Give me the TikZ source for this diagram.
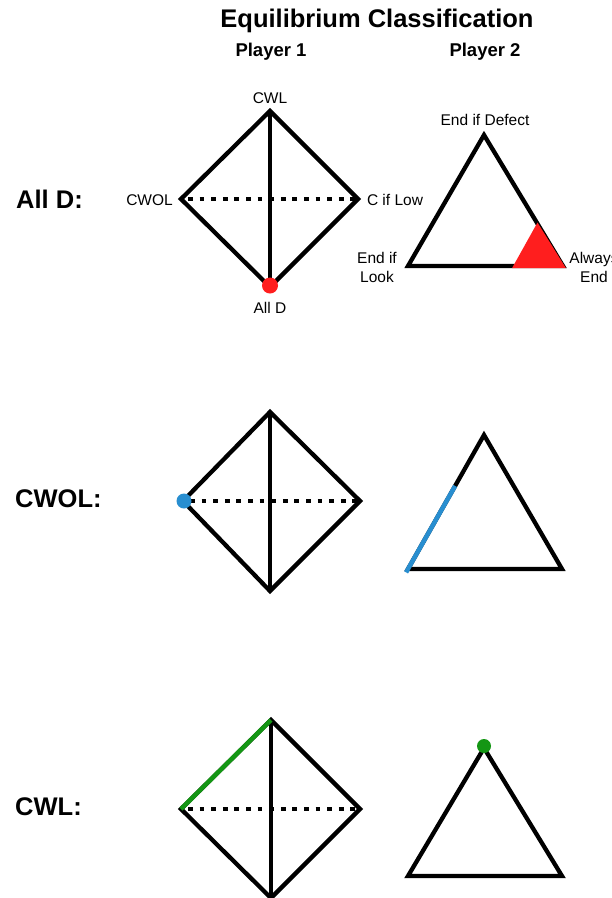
\documentclass[tikz,border=0pt]{standalone}
\usepackage{fontspec}
\setmainfont{Liberation Sans}
\usetikzlibrary{calc}
\definecolor{eqred}{RGB}{255,30,30}
\definecolor{eqblue}{RGB}{40,142,208}
\definecolor{eqgreen}{RGB}{20,150,20}
\begin{document}
\begin{tikzpicture}[x=1pt,y=-1pt,
  edge/.style={line width=4.3pt,black},
  dotline/.style={line width=4.3pt,black,dash pattern=on 4.8pt off 6.8pt,dash phase=-7pt},
  title/.style={font=\fontsize{25.5}{30}\selectfont\bfseries,anchor=base,inner sep=0pt},
  player/.style={font=\fontsize{18.5}{22}\selectfont\bfseries,anchor=base,inner sep=0pt},
  rowlabel/.style={font=\fontsize{25.5}{30}\selectfont\bfseries,anchor=base west,inner sep=0pt},
  small/.style={font=\fontsize{15.5}{19}\selectfont,anchor=base,inner sep=0pt},
  smalltwo/.style={font=\fontsize{15.5}{19}\selectfont,align=center,inner sep=0pt,anchor=center}
]
\useasboundingbox (0,0) rectangle (612,898);
\fill[white] (0,0) rectangle (612,898);

% titles
\node[title] (title) at (377,27) {Equilibrium Classification};
\node[player] (p1) at (271,56) {Player 1};
\node[player] (p2) at (485,56) {Player 2};

% row labels
\node[rowlabel] (r1) at (16,208) {All D:};
\node[rowlabel] (r2) at (15,507) {CWOL:};
\node[rowlabel] (r3) at (15,815) {CWL:};

% ---------- Row 1 ----------
\coordinate (aT) at (270,111);
\coordinate (aL) at (181,199);
\coordinate (aR) at (358,199);
\coordinate (aB) at (270,287);
\draw[edge] (aT) -- (aR) -- (aB) -- (aL) -- cycle;
\draw[edge] (aT) -- (aB);
\draw[dotline] (aL) -- (aR);
\fill[eqred] (270,285.5) circle (8);

\coordinate (aA) at (484,135);
\coordinate (aBL) at (408,266);
\coordinate (aBR) at (563,266);
\draw[edge] (aA) -- (aBR) -- (aBL) -- cycle;
\fill[eqred] (512,268.2) -- (566,268.2) -- (537.5,222.5) -- cycle;

\node[small] (lcwl) at (270,103) {CWL};
\node[small] (lcwol) at (149.5,205) {CWOL};
\node[small] (lclow) at (395,205) {C if Low};
\node[small] (lalld) at (270,313) {All D};
\node[small] (ldef) at (485,125) {End if Defect};
\node[smalltwo] (llook) at (377,267) {End if\\Look};
\node[smalltwo] (lalw) at (594,267) {Always\\End};

% ---------- Row 2 ----------
\coordinate (bT) at (270,412);
\coordinate (bL) at (183,501);
\coordinate (bR) at (360,501);
\coordinate (bB) at (270,591);
\draw[edge] (bT) -- (bR) -- (bB) -- (bL) -- cycle;
\draw[edge] (bT) -- (bB);
\draw[dotline] (bL) -- (bR);
\fill[eqblue] (184,501) circle (7.5);

\coordinate (bA) at (484,435);
\coordinate (bBL) at (408,569);
\coordinate (bBR) at (562,569);
\draw[edge] (bA) -- (bBR) -- (bBL) -- cycle;
\coordinate (bS) at ($(bBL)!-0.025!(bA)$);
\coordinate (bM) at ($(bBL)!0.62!(bA)$);
\draw[line width=4.5pt,eqblue] (bS) -- (bM);

% ---------- Row 3 ----------
\coordinate (cT) at (271,720);
\coordinate (cL) at (181,809);
\coordinate (cR) at (360,809);
\coordinate (cB) at (271,898);
\draw[edge] (cT) -- (cR) -- (cB) -- (cL) -- cycle;
\draw[edge] (cT) -- (cB);
\draw[dotline] (cL) -- (cR);
\draw[line width=4.5pt,eqgreen] (cL) -- (cT);

\coordinate (cA) at (484,748);
\coordinate (cBL) at (408,876);
\coordinate (cBR) at (562,876);
\draw[edge] (cA) -- (cBR) -- (cBL) -- cycle;
\fill[eqgreen] (484,746) circle (7);
\end{tikzpicture}
\end{document}
